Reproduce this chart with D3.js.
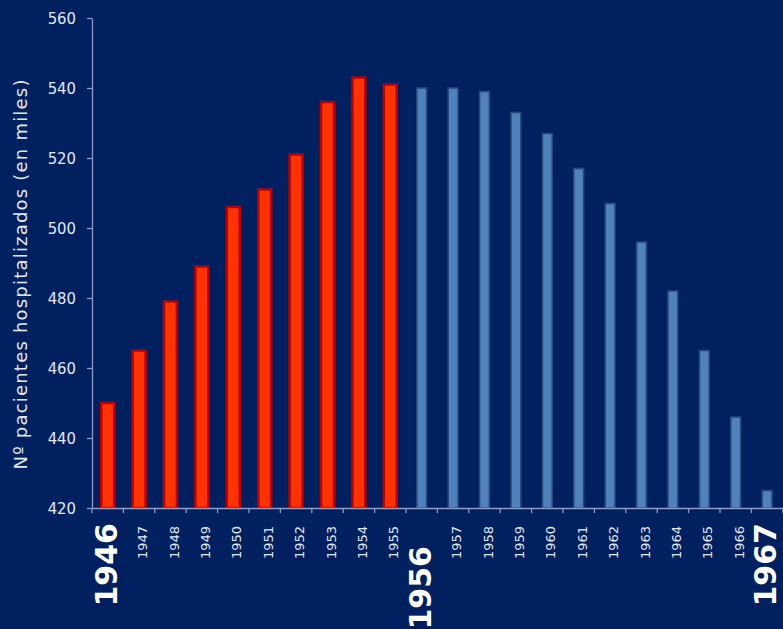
<!DOCTYPE html>
<html>
<head>
<meta charset="utf-8">
<script src="https://cdn.jsdelivr.net/npm/d3@7"></script>
<style>
  html, body { margin: 0; padding: 0; background: #002060; }
  svg { display: block; }
</style>
</head>
<body>
<svg id="chart" width="783" height="629"></svg>
<script>
// Hospitalised patients per year (thousands)
const years = [1946, 1947, 1948, 1949, 1950, 1951, 1952, 1953, 1954, 1955,
               1956, 1957, 1958, 1959, 1960, 1961, 1962, 1963, 1964, 1965, 1966, 1967];
const patients = [450, 465, 479, 489, 506, 511, 521, 536, 543, 541,
                  540, 540, 539, 533, 527, 517, 507, 496, 482, 465, 446, 425];
// Years up to and including this one belong to the first (red) period
const firstPeriodEnd = 1955;
// Years whose axis labels are emphasised
const keyYears = [1946, 1956, 1967];
const yTicks = [420, 440, 460, 480, 500, 520, 540, 560];
const yTitle = "Nº pacientes hospitalizados (en miles)";

(function draw() {
  const W = 783, H = 629;
  const plotLeft = 92, plotTop = 18, plotBottom = 508;
  const step = 31.4;

  const svg = d3.select("#chart");
  svg.append("rect").attr("width", W).attr("height", H).attr("fill", "#002060");

  const x = d3.scaleBand().domain(years).range([plotLeft, plotLeft + step * years.length]).padding(0);
  const y = d3.scaleLinear().domain([420, 560]).range([plotBottom, plotTop]);

  const axisColor = "#8d9bc4";
  const textColor = "#e4e8f2";

  // Y axis
  const yAxis = svg.append("g")
    .attr("transform", `translate(${plotLeft},0)`)
    .call(d3.axisLeft(y).tickValues(yTicks).tickSize(5).tickPadding(11).tickSizeOuter(0));
  yAxis.select(".domain").attr("stroke", axisColor).attr("stroke-width", 1.3);
  yAxis.selectAll(".tick line").attr("stroke", axisColor).attr("stroke-width", 1.3);
  yAxis.selectAll(".tick text")
    .attr("fill", textColor)
    .style("font-family", "'DejaVu Sans Condensed', 'DejaVu Sans', sans-serif")
    .style("font-size", "16.5px");

  // Y title
  svg.append("text")
    .attr("transform", `translate(21,${(79 + 470) / 2}) rotate(-90)`)
    .attr("text-anchor", "middle")
    .attr("dy", "0.36em")
    .attr("textLength", 390)
    .attr("lengthAdjust", "spacing")
    .attr("fill", textColor)
    .style("font-family", "'DejaVu Sans', sans-serif")
    .style("font-size", "18px")
    .text(yTitle);

  // Bars
  const bw = x.bandwidth();
  const bars = svg.append("g");
  years.forEach((yr, i) => {
    const early = yr <= firstPeriodEnd;
    const sw = early ? 2.5 : 1.6;
    const outer = early ? bw * 0.49 : bw * 0.365;
    const w = outer - sw;
    const cx = x(yr) + bw / 2;
    bars.append("rect")
      .attr("x", cx - w / 2)
      .attr("y", y(patients[i]))
      .attr("width", w)
      .attr("height", plotBottom - y(patients[i]))
      .attr("fill", early ? "#ff3300" : "#4f81bd")
      .attr("stroke", early ? "#c00000" : "#26497a")
      .attr("stroke-width", sw);
  });

  // X axis line and boundary ticks
  const xAxis = svg.append("g")
    .attr("transform", `translate(0,${plotBottom})`)
    .call(d3.axisBottom(x).tickSize(0).tickFormat(""));
  xAxis.select(".domain").attr("stroke", axisColor).attr("stroke-width", 1.5);
  const bounds = years.map(yr => x(yr)).concat([x(years[years.length - 1]) + bw]);
  xAxis.selectAll("line.bound").data(bounds).join("line")
    .attr("class", "bound")
    .attr("x1", d => d).attr("x2", d => d)
    .attr("y1", 0).attr("y2", 5)
    .attr("stroke", axisColor).attr("stroke-width", 1.3);

  // X labels, rotated; key years large and bold
  const labelEnd = { 1956: 546 };
  svg.append("g").selectAll("text").data(years).join("text")
    .attr("transform", d => {
      const key = keyYears.includes(d);
      const yEnd = key ? (labelEnd[d] || 523) : 526;
      return `translate(${x(d) + bw / 2},${yEnd}) rotate(-90)`;
    })
    .attr("text-anchor", "end")
    .attr("dy", d => keyYears.includes(d) ? "0.3em" : "0.62em")
    .attr("fill", d => keyYears.includes(d) ? "#ffffff" : textColor)
    .style("font-family", "'DejaVu Sans', sans-serif")
    .style("font-weight", d => keyYears.includes(d) ? "bold" : "normal")
    .style("font-size", d => keyYears.includes(d) ? "30px" : "13px")
    .text(d => d);
})();
</script>
</body>
</html>
